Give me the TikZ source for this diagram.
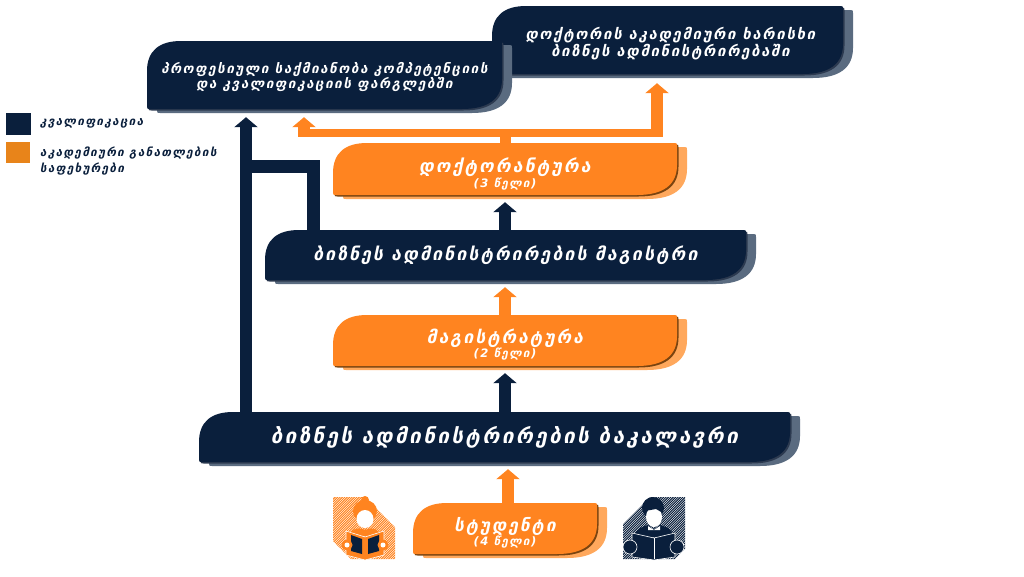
\documentclass[tikz,border=0pt]{standalone}
\usepackage{fontspec}
\usetikzlibrary{arrows.meta}
\newfontfamily\geofont[LetterSpace=12]{DejaVu Sans}
\definecolor{navyfill}{HTML}{0A1F3C}
\definecolor{navyshadow}{HTML}{5A6B80}
\definecolor{navyedge}{HTML}{2C3A50}
\definecolor{orangefill}{HTML}{FF8420}
\definecolor{orangeshadow}{HTML}{FFA85C}
\definecolor{orangeedge}{HTML}{7A4410}
\definecolor{legendorange}{HTML}{E8841A}
\tikzset{x=1pt,y=-1pt,
         paneltext/.style={text=white,align=center,inner sep=0pt,font=\geofont\itshape\bfseries},
         uparrow/.style={-{Triangle[length=10pt,width=23pt]},line width=12pt},
         navylink/.style={uparrow,draw=navyfill},
         orangelink/.style={uparrow,draw=orangefill},
         orangebar/.style={draw=orangefill,line width=8pt,shorten <=-6pt,shorten >=-6pt},
         navybranch/.style={draw=navyfill,line width=13pt},
         legendtext/.style={text=navyfill,anchor=west,inner sep=0pt,font=\geofont\itshape\bfseries\fontsize{11.6}{16}\selectfont,align=left},
         hatchline/.style={line width=1pt},
         bookedge/.style={draw=white,line width=.6pt}}
% a panel: colour set, name, left, top, right, bottom, text
\newcommand{\panelpath}[4]{(#1+34,#2) -- (#3-3,#2) .. controls (#3,#2) .. (#3,#2+3) -- (#3,#4-30)
  .. controls (#3,#4-10) and (#3-14,#4) .. (#3-40,#4) -- (#1+3,#4) .. controls (#1,#4) .. (#1,#4-3)
  -- (#1,#2+30) .. controls (#1,#2+10) and (#1+12,#2) .. (#1+34,#2) -- cycle}
\newcommand{\panel}[7]{
  \fill[#1shadow,shift={(10,4)}] \panelpath{#3}{#4}{#5}{#6};
  \fill[#1edge,shift={(1.5,1.5)}] \panelpath{#3}{#4}{#5}{#6};
  \fill[#1fill] \panelpath{#3}{#4}{#5}{#6};
  \node[paneltext,minimum width=#5pt-#3pt,minimum height=#6pt-#4pt] (#2) at ({(#3+#5)/2},{(#4+#6)/2}) {#7};
}
% text sizes: \tsize{size} and the year line under a title
\newcommand{\tsize}[1]{\fontsize{#1}{21}\selectfont}
\newcommand{\yearline}[1]{\\\fontsize{11.6}{25}\selectfont #1}

\begin{document}
\begin{tikzpicture}
\useasboundingbox (0,0) rectangle (1024,576);

% hatched backs of the two readers
\begin{scope}
  \clip (333,497) -- (365,497) -- (395,527) -- (395,559) -- (351,559) -- (333,541) -- cycle;
  \foreach \i in {0,2.4,...,130}
    \draw[hatchline,orangefill] (333,497+\i) -- ++(70,-70);
\end{scope}
\begin{scope}
  \clip (650,497) -- (685,497) -- (685,549) -- (675,559) -- (623,559) -- (623,524) -- cycle;
  \foreach \i in {0,2.4,...,130}
    \draw[hatchline,navyfill] (623,497+\i) -- ++(70,-70);
\end{scope}

% left reader
\fill[orangefill] (365,500) circle (4);
\fill[orangefill] (365,511) ellipse (12 and 11);
\fill[white] (365,519) ellipse (8.5 and 9);
\fill[orangefill] (350,536) .. controls (351,528) and (358,527) .. (365,530) .. controls (372,527) and (379,528) .. (380,536) -- cycle;
\filldraw[fill=orangefill,bookedge] (346,531) -- (365,537) -- (384,531) -- (384,555) -- (365,560) -- (346,555) -- cycle;
\fill[navyfill] (351,535) -- (362,539) -- (362,554) -- (351,551) -- cycle;
\fill[navyfill] (379,535) -- (368,539) -- (368,554) -- (379,551) -- cycle;
\fill[orangefill] (347,545) circle (5.5) (383,545) circle (5.5);
\fill[white] (347,545) circle (2.5) (383,545) circle (2.5);

% right reader
\fill[navyfill] (653,508) ellipse (11 and 11);
\fill[white] (654,517) ellipse (8 and 10);
\fill[navyfill] (645,511) -- (650,506) -- (662,508) -- (663,513) -- (656,509) -- cycle;
\fill[navyfill] (634,537) .. controls (636,528) and (642,527) .. (648,525) -- (654,530) -- (660,525) .. controls (666,527) and (672,528) .. (674,537) -- cycle;
\fill[white] (648,526) -- (654,530) -- (660,526) -- (660,530) -- (648,530) -- cycle;
\filldraw[fill=navyfill,bookedge] (632,533) -- (654,538) -- (675,533) -- (675,557) -- (654,560) -- (632,557) -- cycle;
\draw[white,line width=.8pt] (654,538) -- (654,559);
\filldraw[fill=navyfill,bookedge] (630,547) circle (7) (677,547) circle (7);

% panels
\panel{navy}{phd}{492}{6}{843}{74}{\hspace*{6pt}\tsize{14.8}\rule{0pt}{19pt}დოქტორის აკადემიური ხარისხი\\\hspace*{6pt}\tsize{14.8}ბიზნეს ადმინისტრირებაში}
\panel{navy}{prof}{147}{41}{502}{109}{\tsize{13.4}\rule{0pt}{15pt}პროფესიული საქმიანობა კომპეტენციის\\\tsize{13.4}და კვალიფიკაციის ფარგლებში}
\panel{orange}{doct}{333}{143}{677}{195}{\tsize{17.8}\rule{0pt}{25pt}დოქტორანტურა\yearline{(3 წელი)}}
\panel{navy}{mas}{265}{230}{746}{280}{\tsize{17.7}ბიზნეს ადმინისტრირების მაგისტრი}
\panel{orange}{mag}{333}{315}{677}{366}{\tsize{17.5}\rule{0pt}{23pt}მაგისტრატურა\yearline{(2 წელი)}}
\panel{navy}{bach}{199}{412}{790}{462}{\hspace*{20pt}\tsize{20.6}ბიზნეს ადმინისტრირების ბაკალავრი}
\panel{orange}{stud}{413}{503}{597}{554}{\tsize{17.2}\rule{0pt}{23pt}სტუდენტი\yearline{(4 წელი)}}

% named free ends of the connectors
\coordinate (split) at (doct.north |- 0,133);
\coordinate (profin) at ([xshift=-78.5pt]prof.south);
\coordinate (profbar) at ([xshift=-20.5pt]prof.south);
\coordinate (phdin) at ([xshift=-10.5pt]phd.south);
\coordinate (studout) at ([xshift=3pt]stud.north);

% connectors
\draw[navylink,shorten >=8pt] (profin |- bach.north) -- (profin);
\draw[navybranch] (profin |- 0,166.5) -| ([xshift=-192.5pt]mas.north);
\draw[navylink,shorten >=7pt] (doct.south |- mas.north) -- (doct.south);
\draw[navylink,shorten >=7pt] (mag.south |- bach.north) -- (mag.south);
\draw[orangelink,shorten >=7pt] (mag.north) -- (mas.south -| mag.north);
\draw[orangelink,shorten >=7pt] (studout) -- (studout |- bach.south);
\draw[orangefill,line width=11pt] (doct.north) -- (split);
\draw[orangebar] (profbar |- split) -- (phdin |- split);
\draw[orangelink,shorten >=8pt] (profbar |- split) -- (profbar);
\draw[orangelink,shorten >=9pt] (phdin |- split) -- (phdin);

% legend
\node[fill=navyfill,minimum width=25pt,minimum height=22pt,inner sep=0pt] (qual) at (18.5,124) {};
\node[fill=legendorange,minimum width=24pt,minimum height=21pt,inner sep=0pt] (stage) at (18,152.5) {};
\node[legendtext] (qualtext) at (40,123) {კვალიფიკაცია};
\node[legendtext] (stagetext) at (40,161) {აკადემიური განათლების\\საფეხურები};
\end{tikzpicture}
\end{document}
